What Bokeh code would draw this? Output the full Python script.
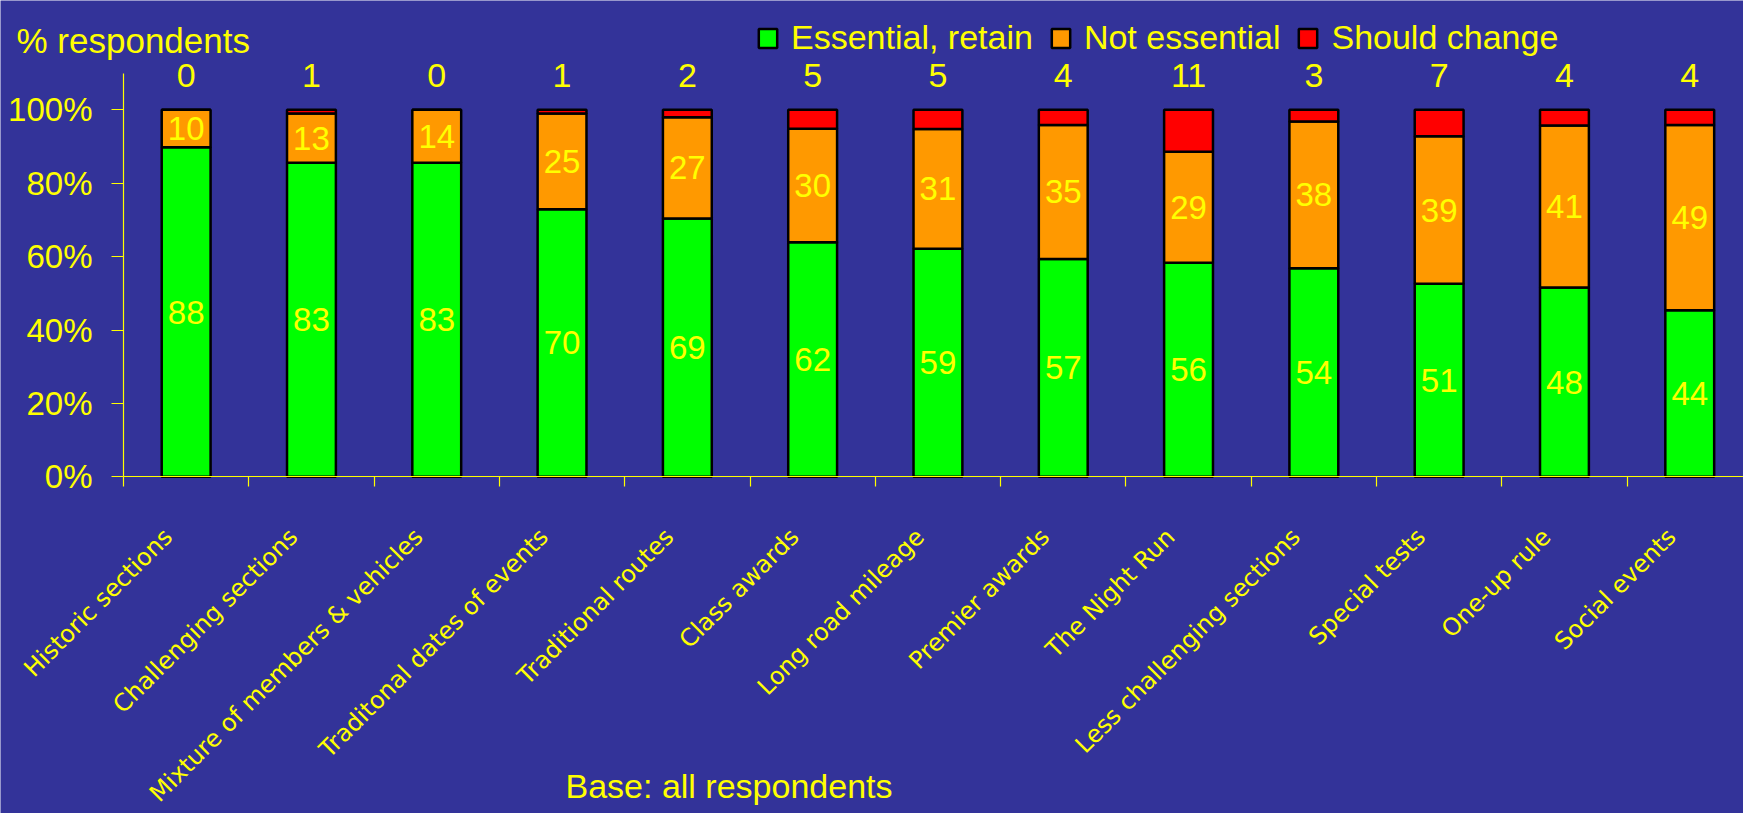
from math import pi

from bokeh.plotting import figure
from bokeh.models import (Range1d, LinearAxis, FixedTicker, PrintfTickFormatter,
                          ColumnDataSource, LabelSet, Label, Legend, LegendItem)
from bokeh.core.properties import value
from bokeh.embed import file_html
from bokeh.resources import INLINE

# --- data -----------------------------------------------------------------
categories = [
    "Historic sections", "Challenging sections", "Mixture of members & vehicles",
    "Traditonal dates of events", "Traditional routes", "Class awards",
    "Long road mileage", "Premier awards", "The Night Run",
    "Less challenging sections", "Special tests", "One-up rule", "Social events",
]
essential = [88, 83, 83, 70, 69, 62, 59, 57, 56, 54, 51, 48, 44]
not_essential = [10, 13, 14, 25, 27, 30, 31, 35, 29, 38, 39, 41, 49]
should_change = [0, 1, 0, 1, 2, 5, 5, 4, 11, 3, 7, 4, 4]
series_names = ["Essential, retain", "Not essential", "Should change"]
y_ticks = [0, 20, 40, 60, 80, 100]

# --- style ----------------------------------------------------------------
BG = "#333399"
FG = "#FFFF00"
series_colors = ["#00FF00", "#FF9900", "#FF0000"]
TXT_FONT = "Liberation Sans"
CAT_FONT = "DejaVu Sans"

W, H = 1743, 813
ORIGIN_X, ORIGIN_Y = 123, 476.3      # pixel position of (0, 0%)
PX_PER_CAT, PX_PER_PCT = 125.3, 3.67

# --- 100% stacked shares ----------------------------------------------------
n = len(categories)
centers = [i + 0.5 for i in range(n)]
totals = [a + b + c for a, b, c in zip(essential, not_essential, should_change)]
share_e = [100.0 * a / t for a, t in zip(essential, totals)]
share_n = [100.0 * b / t for b, t in zip(not_essential, totals)]
share_c = [100.0 * c / t for c, t in zip(should_change, totals)]
top_e = share_e
top_n = [e + m for e, m in zip(share_e, share_n)]
top_c = [e + m + c for e, m, c in zip(share_e, share_n, share_c)]

src = ColumnDataSource(dict(
    x=centers,
    zero=[0.0] * n,
    top_e=top_e, top_n=top_n, top_c=top_c,
    mid_e=[t / 2 for t in top_e],
    mid_n=[(a + b) / 2 for a, b in zip(top_e, top_n)],
    lab_e=[str(v) for v in essential],
    lab_n=[str(v) for v in not_essential],
    lab_c=[str(v) for v in should_change],
    cat=categories,
))

# the plotting frame fills the whole canvas; axes sit at fixed locations inside it
x_range = Range1d(-ORIGIN_X / PX_PER_CAT, (W - ORIGIN_X) / PX_PER_CAT)
y_range = Range1d(-(H - ORIGIN_Y) / PX_PER_PCT, ORIGIN_Y / PX_PER_PCT)

p = figure(width=W, height=H, x_range=x_range, y_range=y_range,
           x_axis_type=None, y_axis_type=None,
           output_backend="svg", toolbar_location=None,
           min_border=0, min_border_left=0, min_border_right=0,
           min_border_top=0, min_border_bottom=0,
           background_fill_color=BG, border_fill_color=BG,
           outline_line_color=None)

bar_kw = dict(source=src, x="x", width=0.39, line_color="black", line_width=2.5)
r_e = p.vbar(bottom="zero", top="top_e", fill_color=series_colors[0], **bar_kw)
r_n = p.vbar(bottom="top_e", top="top_n", fill_color=series_colors[1], **bar_kw)
r_c = p.vbar(bottom="top_n", top="top_c", fill_color=series_colors[2], **bar_kw)

# axes
yaxis = LinearAxis(fixed_location=0, bounds=(0, 110),
                   ticker=FixedTicker(ticks=y_ticks),
                   formatter=PrintfTickFormatter(format="%d%%"),
                   axis_line_color=FG, axis_line_width=1.2,
                   major_tick_line_color=FG, major_tick_line_width=1.2,
                   major_tick_out=12, major_tick_in=0,
                   minor_tick_out=0, minor_tick_in=0,
                   major_label_standoff=19,
                   major_label_text_color=FG,
                   major_label_text_font=TXT_FONT,
                   major_label_text_font_size="33px")
p.add_layout(yaxis, "left")

xaxis = LinearAxis(fixed_location=0, bounds=(0, n),
                   ticker=FixedTicker(ticks=list(range(n + 1))),
                   major_label_overrides={i: "" for i in range(n + 1)},
                   axis_line_color=FG, axis_line_width=1.2,
                   major_tick_line_color=FG, major_tick_line_width=1.2,
                   major_tick_out=10, major_tick_in=0,
                   minor_tick_out=0, minor_tick_in=0)
p.add_layout(xaxis, "below")

# category names, slanted under each bar
p.text(source=src, x="x", y="zero", text="cat", angle=pi / 4,
       x_offset=-18, y_offset=56,
       text_align="right", text_baseline="alphabetic",
       text_color=FG, text_font=value(CAT_FONT), text_font_size="24px")

# value labels inside the segments
seg_kw = dict(source=src, x="x", text_align="center", text_baseline="middle",
              text_color=FG, text_font=value(TXT_FONT), text_font_size="33px")
p.add_layout(LabelSet(y="mid_e", text="lab_e", **seg_kw))
p.add_layout(LabelSet(y="mid_n", text="lab_n", **seg_kw))

# "should change" counts above each bar
p.add_layout(LabelSet(source=src, x="x", y="top_c", text="lab_c", y_offset=23,
                      text_align="center", text_baseline="alphabetic",
                      text_color=FG, text_font=value(TXT_FONT), text_font_size="34px"))

# legend
legend = Legend(items=[LegendItem(label=series_names[0], renderers=[r_e]),
                       LegendItem(label=series_names[1], renderers=[r_n]),
                       LegendItem(label=series_names[2], renderers=[r_c])],
                orientation="horizontal", location=(756, H - 57),
                background_fill_alpha=0, border_line_alpha=0,
                label_text_color=FG, label_text_font=TXT_FONT,
                label_text_font_size="34px", label_text_baseline="alphabetic",
                glyph_width=23, glyph_height=24,
                label_standoff=12, spacing=16, padding=0, margin=0)
p.add_layout(legend)

# titles
p.add_layout(Label(x=0, y=110, x_offset=-107, y_offset=33, text="% respondents",
                   text_align="left", text_baseline="alphabetic", text_color=FG,
                   text_font=TXT_FONT, text_font_size="35px"))
p.add_layout(Label(x=0, y=0, x_offset=442, y_offset=-309, text="Base: all respondents",
                   text_align="left", text_baseline="alphabetic", text_color=FG,
                   text_font=TXT_FONT, text_font_size="34px"))

open("out.html", "w").write(file_html(p, INLINE))
